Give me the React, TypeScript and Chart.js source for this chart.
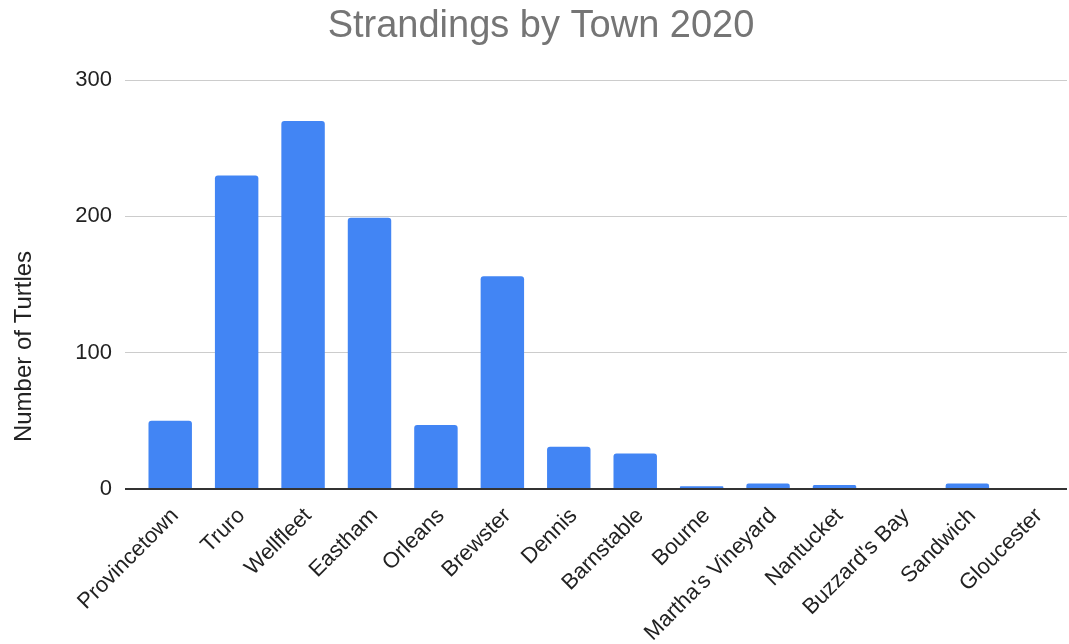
import React, { useEffect, useRef } from "react";
import { Chart, registerables } from "chart.js";

Chart.register(...registerables);

const TITLE = "Strandings by Town 2020";
const Y_TITLE = "Number of Turtles";
const towns = [
  "Provincetown",
  "Truro",
  "Wellfleet",
  "Eastham",
  "Orleans",
  "Brewster",
  "Dennis",
  "Barnstable",
  "Bourne",
  "Martha's Vineyard",
  "Nantucket",
  "Buzzard's Bay",
  "Sandwich",
  "Gloucester",
];
const strandings = [50, 230, 270, 199, 47, 156, 31, 26, 2, 4, 3, 0, 4, 0];
const yTicks = [0, 100, 200, 300];

const FONT = "Arial, 'Liberation Sans', sans-serif";

const titlesPlugin = {
  id: "titlesPlugin",
  afterDraw(chart: any) {
    const ctx = chart.ctx;
    ctx.save();
    ctx.fillStyle = "#757575";
    ctx.font = `38px ${FONT}`;
    ctx.textAlign = "center";
    ctx.textBaseline = "alphabetic";
    ctx.fillText(TITLE, 541, 37);
    ctx.translate(31, 346.5);
    ctx.rotate(-Math.PI / 2);
    ctx.fillStyle = "#222";
    ctx.font = `24px ${FONT}`;
    ctx.textAlign = "center";
    ctx.textBaseline = "alphabetic";
    ctx.fillText(Y_TITLE, 0, 0);
    ctx.restore();
  },
};

export default function App() {
  const ref = useRef<HTMLCanvasElement | null>(null);
  useEffect(() => {
    if (!ref.current) return;
    const chart = new Chart(ref.current, {
      type: "bar",
      data: {
        labels: towns,
        datasets: [
          {
            data: strandings,
            backgroundColor: "#4285F4",
            borderRadius: 3,
            barPercentage: 0.654,
            categoryPercentage: 1,
          },
        ],
      },
      plugins: [titlesPlugin],
      options: {
        animation: false,
        responsive: true,
        maintainAspectRatio: false,
        layout: { padding: { left: 0, right: 2, top: 80, bottom: 0 } },
        plugins: {
          legend: { display: false },
          tooltip: { enabled: false },
          title: { display: false },
        },
        scales: {
          x: {
            border: { display: false },
            grid: { display: false, drawTicks: false },
            ticks: {
              autoSkip: false,
              minRotation: 45,
              maxRotation: 45,
              padding: 14,
              labelOffset: 5,
              color: "#222",
              font: { family: FONT, size: 22 },
            },
            afterFit: (s: any) => {
              s.height = 644 - 80 - 409 - 0;
            },
          },
          y: {
            min: 0,
            max: 300,
            border: { display: false },
            afterBuildTicks: (s: any) => {
              s.ticks = yTicks.map((v) => ({ value: v }));
            },
            afterFit: (s: any) => {
              s.width = 137;
            },
            grid: {
              color: (c: any) => (c.tick && c.tick.value === 0 ? "#333" : "#cccccc"),
              lineWidth: (c: any) => (c.tick && c.tick.value === 0 ? 2 : 1),
              tickLength: 12,
            },
            ticks: {
              padding: 13,
              color: "#222",
              font: { family: FONT, size: 22 },
            },
          },
        },
      },
    });
    return () => chart.destroy();
  }, []);
  return (
    <div style={{ position: "fixed", left: 0, top: 0, width: 1069, height: 644, background: "#fff" }}>
      <canvas ref={ref} />
    </div>
  );
}
